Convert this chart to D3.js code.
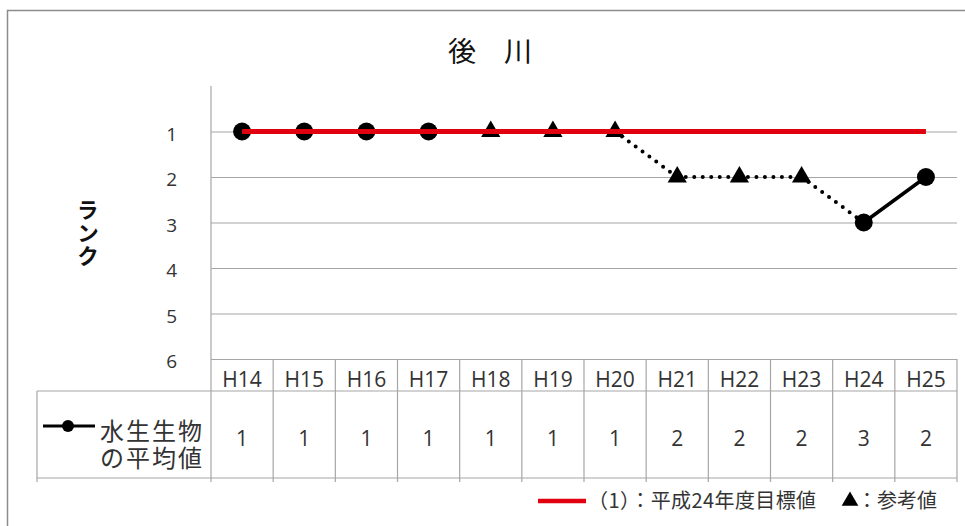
<!DOCTYPE html>
<html>
<head>
<meta charset="utf-8">
<script src="https://cdn.jsdelivr.net/npm/d3@7"></script>
<style>
  html, body { margin: 0; padding: 0; background: #fff; }
  svg { display: block; }
</style>
</head>
<body>
<svg id="chart" width="965" height="526"></svg>
<script>
// ---- data ----
const years = ["H14", "H15", "H16", "H17", "H18", "H19", "H20", "H21", "H22", "H23", "H24", "H25"];
const ranks = [1, 1, 1, 1, 1, 1, 1, 2, 2, 2, 3, 2];
// "m" = measured average (circle), "r" = reference value (triangle)
const kinds = ["m", "m", "m", "m", "r", "r", "r", "r", "r", "r", "m", "m"];
const targetRank = 1;
const yTicks = [1, 2, 3, 4, 5, 6];
const title = "後　川";
const yLabel = "ランク";
const seriesName = ["水生生物", "の平均値"];
const targetLabel = "（1）：平成24年度目標値";
const refLabel = "：参考値";

// ---- layout ----
const svg = d3.select("#chart");
const plotLeft = 211, plotRight = 957, plotTop = 86, plotBottom = 359;
const headerBottom = 391, tableBottom = 478, tableLeft = 37;
const latin = "'Open Sans', 'Noto Sans', sans-serif";
const cjk = "'Noto Sans CJK JP', sans-serif";
const gridColor = "#a6a6a6";
const textColor = "#333333";

const x = d3.scaleBand().domain(years).range([plotLeft, plotRight]);
const y = d3.scaleLinear().domain([0, 6]).range([plotTop, plotBottom]);
const cx = d => x(d) + x.bandwidth() / 2;

// outer frame
svg.append("rect")
  .attr("x", 7.5).attr("y", 10.5).attr("width", 1000).attr("height", 600)
  .attr("fill", "none").attr("stroke", "#8c8c8c").attr("stroke-width", 1.5);

// title
svg.append("text")
  .attr("x", 490).attr("y", 62)
  .attr("text-anchor", "middle")
  .attr("font-family", cjk).attr("font-size", 28)
  .attr("fill", "#111")
  .text(title);

// y axis title, set vertically
svg.append("text")
  .attr("x", 88).attr("y", 199)
  .style("writing-mode", "vertical-rl")
  .style("letter-spacing", "1px")
  .attr("font-family", cjk).attr("font-size", 22).attr("font-weight", "bold")
  .attr("fill", "#111")
  .text(yLabel);

// y axis with gridlines
const yAxis = d3.axisLeft(y)
  .tickValues(yTicks)
  .tickFormat(d3.format("d"))
  .tickSize(-(plotRight - plotLeft))
  .tickPadding(34);
const gy = svg.append("g").attr("transform", `translate(${plotLeft},0)`).call(yAxis);
gy.select(".domain").remove();
gy.selectAll(".tick line").attr("stroke", gridColor).attr("stroke-width", 1.2);
gy.selectAll(".tick text")
  .attr("font-family", latin).attr("font-size", 19)
  .attr("fill", textColor).attr("dy", "0.45em");

// vertical axis line
svg.append("line")
  .attr("x1", plotLeft).attr("x2", plotLeft).attr("y1", y(0)).attr("y2", tableBottom + 4)
  .attr("stroke", gridColor).attr("stroke-width", 1.2);

// ---- data table ----
const table = svg.append("g");
const bounds = years.map(d => x(d)).concat([plotRight]);
table.selectAll("line.col")
  .data(bounds.slice(1))
  .join("line")
  .attr("x1", d => d).attr("x2", d => d)
  .attr("y1", plotBottom).attr("y2", tableBottom + 4)
  .attr("stroke", gridColor).attr("stroke-width", 1.2);
[[tableLeft, headerBottom], [tableLeft, tableBottom]].forEach(([x0, yy]) => {
  table.append("line")
    .attr("x1", x0).attr("x2", plotRight).attr("y1", yy).attr("y2", yy)
    .attr("stroke", gridColor).attr("stroke-width", 1.2);
});
table.append("line")
  .attr("x1", tableLeft).attr("x2", tableLeft).attr("y1", headerBottom).attr("y2", tableBottom + 4)
  .attr("stroke", gridColor).attr("stroke-width", 1.2);

table.selectAll("text.year")
  .data(years)
  .join("text")
  .attr("x", d => cx(d)).attr("y", 387)
  .attr("text-anchor", "middle")
  .attr("font-family", latin).attr("font-size", 21).attr("fill", textColor)
  .text(d => d);

table.selectAll("text.val")
  .data(years)
  .join("text")
  .attr("x", d => cx(d)).attr("y", 446)
  .attr("text-anchor", "middle")
  .attr("font-family", latin).attr("font-size", 21).attr("fill", textColor)
  .text((d, i) => ranks[i]);

// series key inside table
table.append("line")
  .attr("x1", 43).attr("x2", 95).attr("y1", 426).attr("y2", 426)
  .attr("stroke", "#000").attr("stroke-width", 3);
table.append("circle")
  .attr("cx", 68).attr("cy", 426).attr("r", 6).attr("fill", "#000");
const sn = table.append("text")
  .attr("text-anchor", "end")
  .attr("font-family", cjk).attr("font-size", 24).attr("fill", textColor)
  .style("letter-spacing", "2px");
seriesName.forEach((s, i) => {
  sn.append("tspan").attr("x", 204).attr("y", 440 + i * 27).text(s);
});

// ---- series line ----
const pts = years.map((d, i) => ({ year: d, rank: ranks[i], kind: kinds[i] }));
const segs = d3.pairs(pts);
const isRef = d => d[0].kind === "r" || d[1].kind === "r";
svg.append("g").selectAll("line")
  .data(segs)
  .join("line")
  .attr("x1", d => cx(d[0].year)).attr("y1", d => y(d[0].rank))
  .attr("x2", d => cx(d[1].year)).attr("y2", d => y(d[1].rank))
  .attr("stroke", "#000")
  .attr("stroke-width", d => isRef(d) ? 4 : 3.5)
  .attr("stroke-linecap", "round")
  .attr("stroke-dasharray", d => isRef(d) ? "0 8.5" : null);

// markers
const tri = d3.symbol().type(d3.symbolTriangle).size(160);
const mk = svg.append("g");
mk.selectAll("circle")
  .data(pts.filter(p => p.kind === "m"))
  .join("circle")
  .attr("cx", d => cx(d.year)).attr("cy", d => y(d.rank)).attr("r", 9)
  .attr("fill", "#000");
mk.selectAll("path")
  .data(pts.filter(p => p.kind === "r"))
  .join("path")
  .attr("d", tri)
  .attr("transform", d => `translate(${cx(d.year)},${y(d.rank)})`)
  .attr("fill", "#000");

// target line
svg.append("line")
  .attr("x1", cx(years[0])).attr("x2", cx(years[years.length - 1]))
  .attr("y1", y(targetRank)).attr("y2", y(targetRank))
  .attr("stroke", "#e0000f").attr("stroke-width", 5);

// ---- legend ----
const lg = svg.append("g");
lg.append("line")
  .attr("x1", 538).attr("x2", 586).attr("y1", 501).attr("y2", 501)
  .attr("stroke", "#e0000f").attr("stroke-width", 4.5);
lg.append("text")
  .attr("x", 588).attr("y", 508)
  .attr("font-family", cjk).attr("font-size", 20).attr("fill", textColor)
  .style("letter-spacing", "0.4px")
  .text(targetLabel);
lg.append("path")
  .attr("d", d3.symbol().type(d3.symbolTriangle).size(120))
  .attr("transform", "translate(850,501)")
  .attr("fill", "#000");
lg.append("text")
  .attr("x", 857).attr("y", 508)
  .attr("font-family", cjk).attr("font-size", 20).attr("fill", textColor)
  .text(refLabel);
</script>
</body>
</html>
